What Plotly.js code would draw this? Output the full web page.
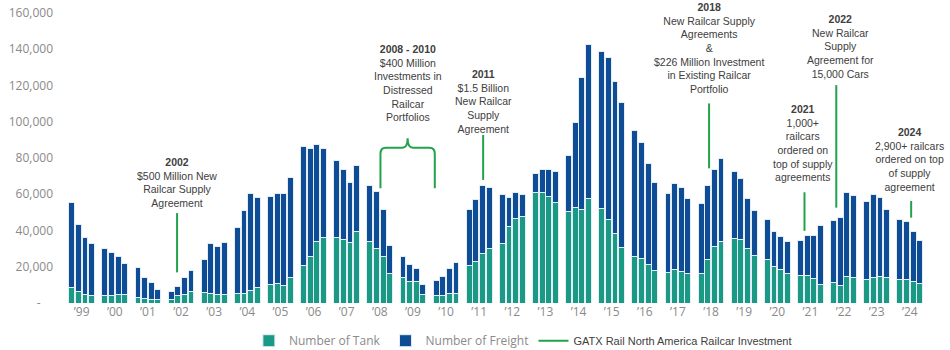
<!DOCTYPE html>
<html>
<head>
<meta charset="utf-8">
<script src="https://cdn.plot.ly/plotly-3.0.1.min.js"></script>
<style>body{margin:0;background:#fff}#chart{width:950px;height:350px}</style>
</head>
<body>
<div id="chart"></div>
<script>
// ---- data (quarterly, Q1..Q4 per year) ----
const years = ["’99","’00","’01","’02","’03","’04","’05","’06","’07","’08","’09","’10","’11","’12","’13","’14","’15","’16","’17","’18","’19","’20","’21","’22","’23","’24"];
const quarters = ["Q1","Q2","Q3","Q4"];
const tankCars = [
  8300,6300,4600,4400,  4200,4400,4600,4500,  3100,2400,2200,2000,  2200,4200,4600,6400,
  5700,5000,4800,4800,  5500,5500,7000,8300,  10100,11000,9900,13900, 20700,25500,33900,36100,
  36100,35200,33200,39600, 34100,30100,25900,16500, 13800,12100,11700,4700, 4400,4200,5100,5300,
  20500,22700,27300,29900, 32700,42400,46600,47900, 61100,61100,58700,55600, 50400,52600,51500,57400,
  52100,46300,38300,30800, 25500,24400,21100,18200, 16900,18700,17600,16300, 16300,23800,31400,34100,
  35400,34900,29900,26200, 24200,20400,18300,16500, 15200,15000,13400,10200, 11200,9500,14600,14100,
  13000,14100,14500,14100, 13000,13200,11700,10500
];
const freightCars = [
  47200,36900,31700,28200, 26100,23500,21100,17500, 16500,11700,9100,5700, 3900,4800,9500,11600,
  18100,27800,26600,28800, 36300,45700,53600,49900, 48800,49200,50700,55300, 65900,59900,53800,49400,
  42600,38600,33400,36000, 30900,31200,25900,15100, 12100,9000,7400,5400, 8000,10400,13800,16900,
  31300,34600,37500,34100, 27300,15800,14500,11900, 10300,12300,14700,16900, 31200,46900,72700,85300,
  86400,89200,83900,80000, 69400,64300,56000,48200, 43300,47500,46300,41500, 38500,41000,42000,45500,
  37300,33700,27700,24800, 21700,18900,18600,17600, 19500,22100,24000,32400, 34500,37600,46500,45400,
  42800,45500,43900,37300, 33300,32000,27900,23800
];
const yTickVals = [0,20000,40000,60000,80000,100000,120000,140000,160000];
const yTickText = ["-\u00a0\u00a0\u00a0\u00a0","20,000","40,000","60,000","80,000","100,000","120,000","140,000","160,000"];

// investment call-outs: slot position on the quarter axis, line extent, label
const events = [
  {x:15.9,  y0:16900, y1:49600,  ty:51000,  text:"<b>2002</b><br>$500 Million New<br>Railcar Supply<br>Agreement"},
  {x:62.1,  y0:67900, y1:92700,  ty:91500,  text:"<b>2011</b><br>$1.5 Billion<br>New Railcar<br>Supply<br>Agreement"},
  {x:96.2,  y0:74300, y1:110100, ty:113600, text:"<b>2018</b><br>New Railcar Supply<br>Agreements<br>&<br>$226 Million Investment<br>in Existing Railcar<br>Portfolio"},
  {x:110.6, y0:39800, y1:61100,  ty:65000,  text:"<b>2021</b><br>1,000+<br>railcars<br>ordered on<br>top of supply<br>agreements", tx:110.4},
  {x:115.4, y0:52600, y1:120200, ty:122000, text:"<b>2022</b><br>New Railcar<br>Supply<br>Agreement for<br>15,000 Cars", tx:116.0},
  {x:126.7, y0:47100, y1:56300,  ty:59500,  text:"<b>2024</b><br>2,900+ railcars<br>ordered on top<br>of supply<br>agreement", tx:126.5}
];
const brace = {xL:46.6, xM:50.7, xR:54.8, yBot:63300, yH:85700, yTip:90900, ty:98000,
  text:"<b>2008 - 2010</b><br>$400 Million<br>Investments in<br>Distressed<br>Railcar<br>Portfolios"};

// ---- build ----
const xs = [];
years.forEach((y, yi) => quarters.forEach((q, qi) => xs.push(yi*5 + qi)));
const TEAL = "#1a9a85", BLUE = "#0f4c96", GREEN = "#22a24c";

const lineX = [], lineY = [];
events.forEach(e => { lineX.push(e.x, e.x, null); lineY.push(e.y0, e.y1, null); });

const traces = [
  {type:"bar", name:"Number of Tank", x:xs, y:tankCars,
   marker:{color:TEAL, line:{color:"#e4edf6", width:1}}, hoverinfo:"skip"},
  {type:"bar", name:"Number of Freight", x:xs, y:freightCars,
   marker:{color:BLUE, line:{color:"#e4edf6", width:1}}, hoverinfo:"skip"},
  {type:"scatter", mode:"lines", name:'<span style="font-family:Liberation Sans, Arial;font-size:11px;fill:#404040">GATX Rail North America Railcar Investment</span>',
   x:lineX, y:lineY, line:{color:GREEN, width:2}, hoverinfo:"skip", connectgaps:false}
];

const annFont = {family:"Liberation Sans, Arial, sans-serif", size:10.5, color:"#404040"};
const annotations = events.map(e => ({
  x: e.tx !== undefined ? e.tx : e.x, y: e.ty, xref:"x", yref:"y",
  text: e.text, showarrow:false, xanchor:"center", yanchor:"bottom", align:"center", font:annFont
}));
annotations.push({x:brace.xM, y:brace.ty, xref:"x", yref:"y", text:brace.text, showarrow:false,
  xanchor:"center", yanchor:"bottom", align:"center", font:annFont});

const b = brace, dx = 0.8, dy = 3400;
const bracePath = `M ${b.xL} ${b.yBot} L ${b.xL} ${b.yH-dy} Q ${b.xL} ${b.yH} ${b.xL+dx} ${b.yH} ` +
  `L ${b.xM-dx} ${b.yH} Q ${b.xM} ${b.yH} ${b.xM} ${b.yTip} Q ${b.xM} ${b.yH} ${b.xM+dx} ${b.yH} ` +
  `L ${b.xR-dx} ${b.yH} Q ${b.xR} ${b.yH} ${b.xR} ${b.yH-dy} L ${b.xR} ${b.yBot}`;

const tickFont = {family:"Open Sans, DejaVu Sans, sans-serif", size:12, color:"#8a8a8a"};
const layout = {
  width:950, height:350,
  margin:{l:60, r:15, t:13, b:47, autoexpand:false},
  paper_bgcolor:"#fff", plot_bgcolor:"#fff",
  barmode:"stack", bargap:0.12,
  showlegend:true,
  legend:{orientation:"h", traceorder:"normal", x:0.529, xanchor:"center", y:-0.08, yanchor:"top",
          font:{family:"Open Sans, DejaVu Sans, sans-serif", size:12, color:"#8a8a8a"}},
  xaxis:{range:[-1.77, 130.3], showgrid:false, zeroline:false, showline:false, ticks:"",
         tickvals: years.map((y, yi) => yi*5 + 1.5), ticktext: years, tickfont:tickFont, fixedrange:true},
  yaxis:{range:[0,160000], showgrid:false, zeroline:false, showline:false, ticks:"",
         tickvals:yTickVals, ticktext:yTickText, tickfont:tickFont, ticklabelstandoff:6, fixedrange:true},
  shapes:[{type:"path", xref:"x", yref:"y", path:bracePath, line:{color:GREEN, width:2}}],
  annotations: annotations
};
Plotly.newPlot("chart", traces, layout, {displayModeBar:false, staticPlot:true});
</script>
</body>
</html>
